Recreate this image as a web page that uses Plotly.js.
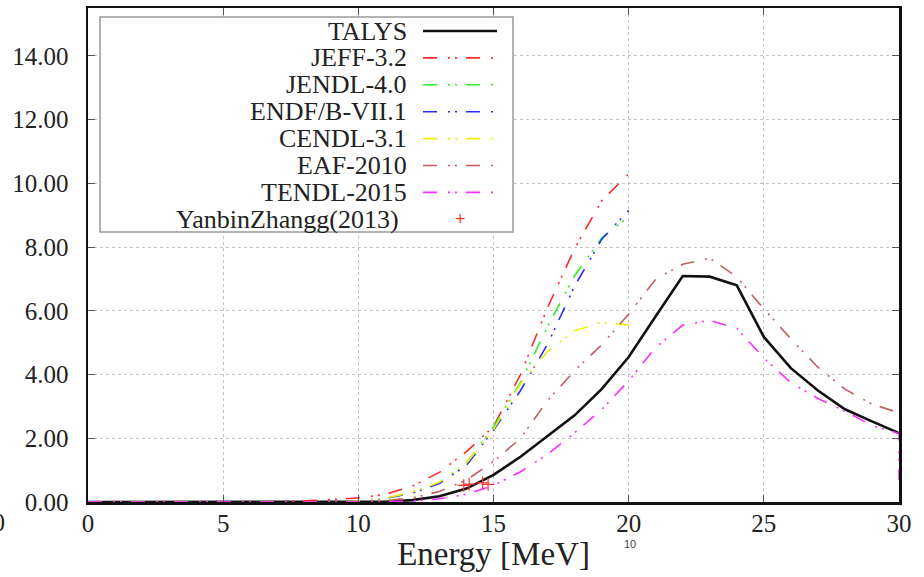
<!DOCTYPE html>
<html>
<head>
<meta charset="utf-8">
<script src="https://cdn.plot.ly/plotly-3.0.1.min.js"></script>
<style>html,body{margin:0;padding:0;background:#fff;}#chart{width:924px;height:577px;}</style>
</head>
<body>
<div id="chart"></div>
<script>
// ---- data ----
const energyFull = [0,1,2,3,4,5,6,7,8,9,10,11,12,13,14,15,16,17,18,19,20,21,22,23,24,25,26,27,28,29,30];
const energyTo20 = [0,1,2,3,4,5,6,7,8,9,10,11,12,13,14,15,16,17,18,19,20];
const energyTendl = [0,1,2,3,4,5,6,7,8,9,10,11,12,13,14,15,16,17,18,19,20,21,22,23,24,25,26,27,28,29,30,30];

const talys  = [0,0,0,0,0,0,0,0,0,0,0,0.01,0.06,0.18,0.42,0.85,1.42,2.08,2.72,3.54,4.55,5.83,7.09,7.07,6.80,5.18,4.20,3.50,2.91,2.53,2.16];
const jeff32 = [0,0,0,0,0,0,0,0.01,0.04,0.07,0.13,0.24,0.50,0.93,1.58,2.37,4.00,6.10,7.95,9.45,10.30];
const jendl40 = [0,0,0,0,0,0,0,0,0,0,0.03,0.11,0.29,0.60,1.22,2.35,3.75,5.50,7.10,8.28,8.95];
const endfb71 = [0,0,0,0,0,0,0,0,0,0,0.03,0.11,0.28,0.58,1.15,2.25,3.50,4.95,6.77,8.24,9.15];
const cendl31 = [0,0,0,0,0,0,0,0,0,0,0.03,0.12,0.31,0.62,1.22,2.27,3.71,4.72,5.37,5.64,5.55];
const eaf2010 = [0,0,0,0,0,0,0,0,0,0,0.01,0.04,0.13,0.33,0.69,1.27,2.00,3.18,4.12,4.93,5.90,6.99,7.46,7.65,7.06,6.06,5.12,4.23,3.54,3.07,2.80];
const tendl2015 = [0,0,0,0,0,0,0,0,0,0,0,0,0.03,0.10,0.24,0.52,0.95,1.50,2.17,2.90,3.80,4.85,5.55,5.70,5.45,4.52,3.74,3.25,2.85,2.40,2.15,0.70];
const expEnergy = [13.9,14.1,14.6,14.8];
const expValue  = [0.52,0.56,0.60,0.55];

const legendNames = ["TALYS","JEFF-3.2","JENDL-4.0","ENDF/B-VII.1","CENDL-3.1","EAF-2010","TENDL-2015","YanbinZhangg(2013)"];
const xTickVals = [0,5,10,15,20,25,30];
const yTickVals = [0,2,4,6,8,10,12,14];

// ---- styles ----
const DASH = "14px,11px,2px,5px,2px,9px";
const colors = ["#111111","#ff2a2a","#2aee2a","#2a2aff","#eeee00","#c06060","#ff2aff","#ff3030"];
const serif = "Liberation Serif";

const traces = [
  {x: energyFull, y: talys, mode:"lines", line:{color:colors[0], width:2.6}, name:legendNames[0]},
  {x: energyTo20, y: jeff32, mode:"lines", line:{color:colors[1], width:1.6, dash:DASH}, name:legendNames[1]},
  {x: energyTo20, y: jendl40, mode:"lines", line:{color:colors[2], width:1.6, dash:DASH}, name:legendNames[2]},
  {x: energyTo20, y: endfb71, mode:"lines", line:{color:colors[3], width:1.6, dash:DASH}, name:legendNames[3]},
  {x: energyTo20, y: cendl31, mode:"lines", line:{color:colors[4], width:1.6, dash:DASH}, name:legendNames[4]},
  {x: energyFull, y: eaf2010, mode:"lines", line:{color:colors[5], width:1.6, dash:DASH}, name:legendNames[5]},
  {x: energyTendl, y: tendl2015, mode:"lines", line:{color:colors[6], width:1.6, dash:DASH}, name:legendNames[6]},
  {x: expEnergy, y: expValue, mode:"markers", marker:{symbol:"cross-thin", size:9, line:{color:colors[7], width:1.2}}, name:legendNames[7]}
];

// ---- manual gnuplot-style legend (pixel layout -> paper) ----
const PL = 88, PR = 899, PT = 8, PB = 502;
const px = v => (v - PL) / (PR - PL);
const py = v => (PB - v) / (PB - PT);

const shapes = [
  {type:"rect", xref:"paper", yref:"paper", x0:px(100), x1:px(513), y0:py(232), y1:py(17),
   fillcolor:"#ffffff", line:{color:"#9a9a9a", width:1.5}, layer:"above"}
];
const annotations = [];
const rowY0 = 31, rowStep = 26.9;
legendNames.forEach((nm, i) => {
  const yy = rowY0 + i * rowStep;
  annotations.push({xref:"paper", yref:"paper", x:px(i === 7 ? 401 : 409), y:py(yy), xanchor:"right", yanchor:"middle",
    text:nm, showarrow:false, font:{family:serif, size:26, color:"#222"}});
  if (i < 7) {
    shapes.push({type:"line", xref:"paper", yref:"paper", x0:px(423), x1:px(497), y0:py(yy), y1:py(yy),
      line:{color:colors[i], width: i === 0 ? 2.6 : 1.6, dash: i === 0 ? "solid" : DASH}, layer:"above"});
  } else {
    annotations.push({xref:"paper", yref:"paper", x:px(460), y:py(yy), xanchor:"center", yanchor:"middle",
      text:"+", showarrow:false, font:{family:"Liberation Sans", size:18, color:colors[7]}});
  }
});
// stray texts visible in the reference crop
annotations.push({xref:"paper", yref:"paper", x:px(630), y:py(544), xanchor:"center", yanchor:"middle",
  text:"10", showarrow:false, font:{family:"Liberation Sans", size:11, color:"#444"}});
annotations.push({xref:"paper", yref:"paper", x:px(7), y:py(522), xanchor:"right", yanchor:"middle",
  text:"30", showarrow:false, font:{family:serif, size:25, color:"#222"}});

const layout = {
  width: 924, height: 577,
  margin: {l:PL, r:924-PR, t:PT, b:577-PB},
  paper_bgcolor:"#ffffff", plot_bgcolor:"#ffffff",
  showlegend:false,
  font:{family:serif, color:"#222"},
  xaxis:{
    range:[0,30], tickvals:xTickVals, ticktext:xTickVals.map(String),
    showgrid:true, gridcolor:"#c4c4c4", griddash:"dot", gridwidth:1,
    zeroline:false, showline:true, linecolor:"#111", linewidth:2.5, mirror:"allticks",
    ticks:"inside", ticklen:7, tickcolor:"#555", tickwidth:1,
    tickfont:{family:serif, size:25, color:"#222"}, ticklabelstandoff:-3,
    title:{text:"Energy [MeV]", font:{family:serif, size:33, color:"#222"}, standoff:6}
  },
  yaxis:{
    range:[0,15.5], tickvals:yTickVals, ticktext:yTickVals.map(v => v.toFixed(2)),
    showgrid:true, gridcolor:"#c4c4c4", griddash:"dot", gridwidth:1,
    zeroline:false, showline:true, linecolor:"#111", linewidth:2.5, mirror:"allticks",
    ticks:"inside", ticklen:7, tickcolor:"#555", tickwidth:1,
    tickfont:{family:serif, size:25, color:"#222"}, ticklabelstandoff:12
  },
  shapes: shapes,
  annotations: annotations
};

Plotly.newPlot("chart", traces, layout, {displayModeBar:false, staticPlot:true});
</script>
</body>
</html>
